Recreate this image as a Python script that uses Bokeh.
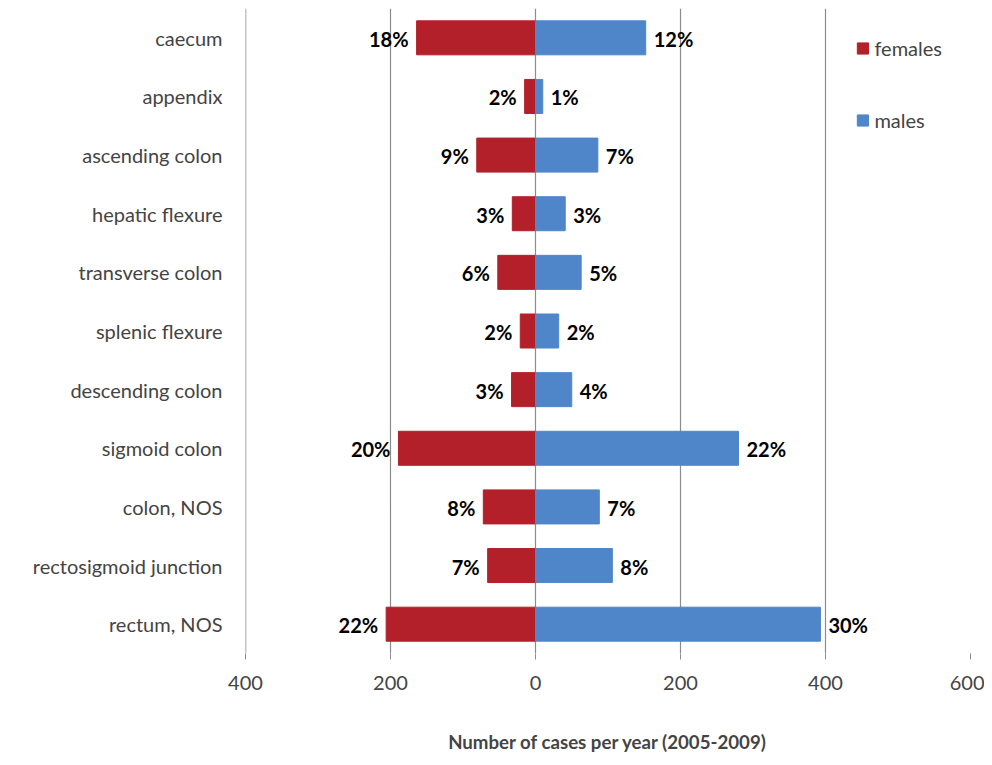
from bokeh.plotting import figure
from bokeh.models import ColumnDataSource, FixedTicker, Legend, LegendItem, LabelSet, Span
from bokeh.core.properties import value
from bokeh.embed import file_html
from bokeh.resources import INLINE

sites = ["caecum", "appendix", "ascending colon", "hepatic flexure", "transverse colon",
         "splenic flexure", "descending colon", "sigmoid colon", "colon, NOS",
         "rectosigmoid junction", "rectum, NOS"]
females = [164, 15, 81, 32, 52, 21, 33, 189, 72, 66, 206]
males = [152, 10, 86, 41, 63, 32, 50, 280, 88, 106, 393]
female_pct = ["18%", "2%", "9%", "3%", "6%", "2%", "3%", "20%", "8%", "7%", "22%"]
male_pct = ["12%", "1%", "7%", "3%", "5%", "2%", "4%", "22%", "7%", "8%", "30%"]

FONT = "Lato"
RED = "#B3202A"
BLUE = "#4F86C9"

src = ColumnDataSource(dict(site=sites, f=[-v for v in females], m=males,
                            fl=female_pct, ml=male_pct))

p = figure(y_range=list(reversed(sites)), x_range=(-400, 600), width=984, height=755,
           output_backend="svg", toolbar_location=None,
           min_border_left=245, min_border_right=14, min_border_top=8, min_border_bottom=86)
p.outline_line_color = None

rf = p.hbar(y="site", left="f", right=0, height=0.58, color=RED, source=src)
rm = p.hbar(y="site", left=0, right="m", height=0.58, color=BLUE, source=src)

for col, xcol, off, align in (("fl", "f", -8, "right"), ("ml", "m", 8, "left")):
    p.add_layout(LabelSet(x=xcol, y="site", text=col, source=src, x_offset=off, y_offset=-1,
                          text_align=align, text_baseline="middle", text_font=value(FONT),
                          text_font_size="15pt", text_font_style="bold", text_color="black"))

ticks = [-400, -200, 0, 200, 400, 600]
p.xaxis.ticker = FixedTicker(ticks=ticks)
p.xaxis.major_label_overrides = {t: str(abs(t)) for t in ticks}
p.xgrid.ticker = FixedTicker(ticks=ticks)
p.xgrid.grid_line_color = "#8c8c8c"
p.xgrid.grid_line_width = 1.2
p.add_layout(Span(location=-400, dimension="height", line_color="#8c8c8c", line_width=1.5))
p.ygrid.grid_line_color = None
p.xaxis.axis_line_color = None
p.xaxis.major_tick_line_color = "#8c8c8c"
p.xaxis.major_tick_out = 6
p.xaxis.major_tick_in = 0
p.xaxis.minor_tick_line_color = None
p.xaxis.major_label_text_font = FONT
p.xaxis.major_label_text_font_size = "15pt"
p.xaxis.major_label_standoff = 16
p.xaxis.axis_label = "Number of cases per year (2005-2009)"
p.xaxis.axis_label_text_font = FONT
p.xaxis.axis_label_text_font_size = "14pt"
p.xaxis.axis_label_text_font_style = "bold"
p.xaxis.axis_label_standoff = 38

p.yaxis.axis_line_color = None
p.yaxis.major_tick_line_color = None
p.yaxis.minor_tick_line_color = None
p.yaxis.major_label_text_font = FONT
p.yaxis.major_label_text_font_size = "15pt"
p.yaxis.major_label_standoff = 17

legend = Legend(items=[LegendItem(label="females", renderers=[rf]),
                       LegendItem(label="males", renderers=[rm])],
                location="top_right", border_line_color=None, background_fill_alpha=0,
                spacing=48, glyph_width=14, glyph_height=14, label_text_font=FONT,
                label_text_font_size="15pt", margin=28, padding=8)
p.add_layout(legend)

open("out.html", "w").write(file_html(p, INLINE))
